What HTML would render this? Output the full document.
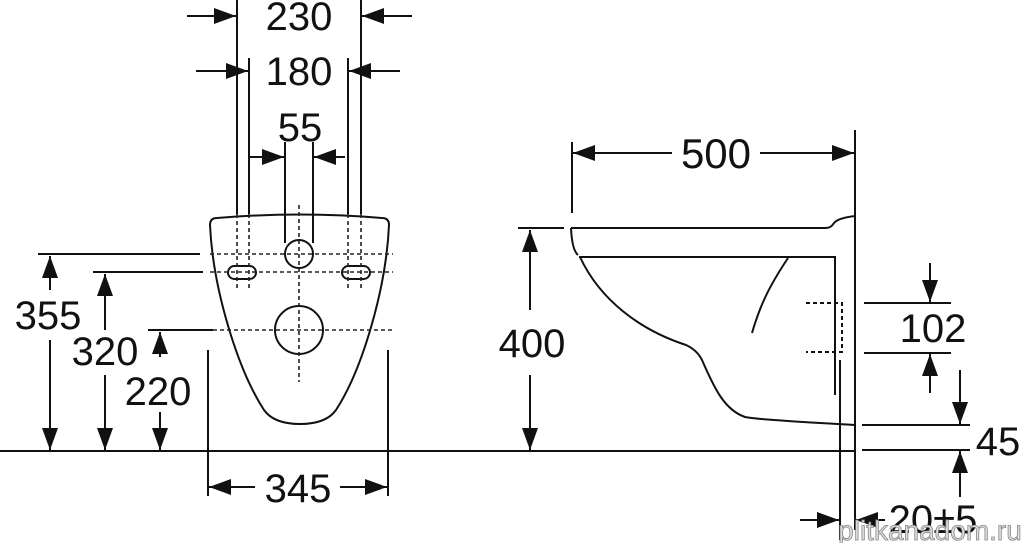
<!DOCTYPE html>
<html><head><meta charset="utf-8"><style>
html,body{margin:0;padding:0;background:#fff;}
svg{display:block}
text{font-family:"Liberation Sans",sans-serif;font-size:40px;fill:#111;text-anchor:middle}
</style></head><body>
<svg width="1024" height="543" viewBox="0 0 1024 543" xmlns="http://www.w3.org/2000/svg">
<defs>
<marker id="a" viewBox="0 0 22 16" refX="22" refY="8" markerWidth="22" markerHeight="16" markerUnits="userSpaceOnUse" orient="auto"><path d="M0,0 L22,8 L0,16 Z" fill="#111"/></marker>
</defs>
<g stroke="#111" stroke-width="2" fill="none">
<line x1="0" y1="451" x2="856" y2="451"/>
<line x1="237" y1="0" x2="237" y2="214"/>
<line x1="361" y1="0" x2="361" y2="214"/>
<line x1="249" y1="58" x2="249" y2="214"/>
<line x1="348" y1="58" x2="348" y2="214"/>
<line x1="285" y1="142" x2="285" y2="243"/>
<line x1="313" y1="142" x2="313" y2="243"/>
<line x1="187" y1="16" x2="236" y2="16" marker-end="url(#a)"/>
<line x1="412" y1="16" x2="362" y2="16" marker-end="url(#a)"/>
<line x1="196" y1="71" x2="248" y2="71" marker-end="url(#a)"/>
<line x1="400" y1="71" x2="349" y2="71" marker-end="url(#a)"/>
<line x1="250" y1="157" x2="284" y2="157" marker-end="url(#a)"/>
<line x1="345" y1="157" x2="314" y2="157" marker-end="url(#a)"/>
<path d="M210,225 Q210,218 217,218 Q300,211 382,218 Q389,218 389,225 C386,290 362,370 336,410 Q326,424 300,424 Q274,424 264,410 C238,370 213,290 210,225 Z"/>
<circle cx="299" cy="254" r="14"/>
<circle cx="299" cy="330" r="24"/>
<rect x="228" y="266" width="28" height="13" rx="6.5"/>
<rect x="342" y="266" width="28" height="13" rx="6.5"/>
<line x1="38" y1="254" x2="200" y2="254"/>
<line x1="93" y1="272" x2="203" y2="272"/>
<line x1="148" y1="330" x2="213" y2="330"/>
<line x1="50" y1="290" x2="50" y2="256" marker-end="url(#a)"/>
<line x1="50" y1="340" x2="50" y2="450" marker-end="url(#a)"/>
<line x1="105" y1="330" x2="105" y2="274" marker-end="url(#a)"/>
<line x1="105" y1="375" x2="105" y2="450" marker-end="url(#a)"/>
<line x1="160" y1="357" x2="160" y2="332" marker-end="url(#a)"/>
<line x1="160" y1="412" x2="160" y2="450" marker-end="url(#a)"/>
<line x1="208" y1="350" x2="208" y2="496"/>
<line x1="388" y1="350" x2="388" y2="496"/>
<line x1="255" y1="487" x2="209" y2="487" marker-end="url(#a)"/>
<line x1="340" y1="487" x2="387" y2="487" marker-end="url(#a)"/>
<line x1="572" y1="142" x2="572" y2="213"/>
<line x1="855" y1="130" x2="855" y2="530"/>
<line x1="672" y1="153" x2="573" y2="153" marker-end="url(#a)"/>
<line x1="760" y1="153" x2="854" y2="153" marker-end="url(#a)"/>
<line x1="518" y1="228" x2="564" y2="228"/>
<line x1="530" y1="310" x2="530" y2="230" marker-end="url(#a)"/>
<line x1="530" y1="375" x2="530" y2="450" marker-end="url(#a)"/>
<path d="M571,228 L826,228 Q831,228 834,223 Q838,218 855,216"/>
<path d="M571,228 Q572,250 578,255"/>
<path d="M579,257 L835,257 L835,395"/>
<path d="M580,257 C600,300 640,330 686,345 Q697,350 702,360 C715,390 725,410 745,417 Q760,420 855,425"/>
<path d="M788,258 C770,285 760,305 752,333"/>
<line x1="840" y1="360" x2="840" y2="540"/>
<path d="M806,303 L842,303 L842,352 L806,352" stroke-dasharray="4,3"/>
<line x1="864" y1="303" x2="951" y2="303"/>
<line x1="864" y1="353" x2="951" y2="353"/>
<line x1="930" y1="263" x2="930" y2="302" marker-end="url(#a)"/>
<line x1="930" y1="393" x2="930" y2="354" marker-end="url(#a)"/>
<line x1="862" y1="425" x2="970" y2="425"/>
<line x1="862" y1="450" x2="970" y2="450"/>
<line x1="960" y1="370" x2="960" y2="424" marker-end="url(#a)"/>
<line x1="960" y1="497" x2="960" y2="451" marker-end="url(#a)"/>
<line x1="800" y1="520" x2="839" y2="520" marker-end="url(#a)"/>
<line x1="885" y1="520" x2="856" y2="520" marker-end="url(#a)"/>
</g>
<g stroke="#222" stroke-width="1.6" fill="none" stroke-dasharray="4,3">
<line x1="210" y1="254" x2="393" y2="254"/>
<line x1="210" y1="272" x2="393" y2="272"/>
<line x1="213" y1="330" x2="393" y2="330"/>
<line x1="299" y1="205" x2="299" y2="382"/>
<line x1="237" y1="214" x2="237" y2="290"/>
<line x1="249" y1="214" x2="249" y2="290"/>
<line x1="348" y1="214" x2="348" y2="290"/>
<line x1="361" y1="214" x2="361" y2="290"/>
</g>
<text x="299" y="30">230</text>
<text x="299" y="85">180</text>
<text x="300" y="141">55</text>
<text x="48" y="329">355</text>
<text x="105" y="365">320</text>
<text x="158" y="405">220</text>
<text x="298" y="502">345</text>
<text x="716" y="168" style="font-size:42px">500</text>
<text x="532" y="357">400</text>
<text x="933" y="342">102</text>
<text x="998" y="455">45</text>
<text x="933" y="533">20±5</text>
<text x="930" y="540" style="font-size:28px;fill:#ddd;stroke:#888;stroke-width:0.8">plitkanadom.ru</text>
</svg>
</body></html>
